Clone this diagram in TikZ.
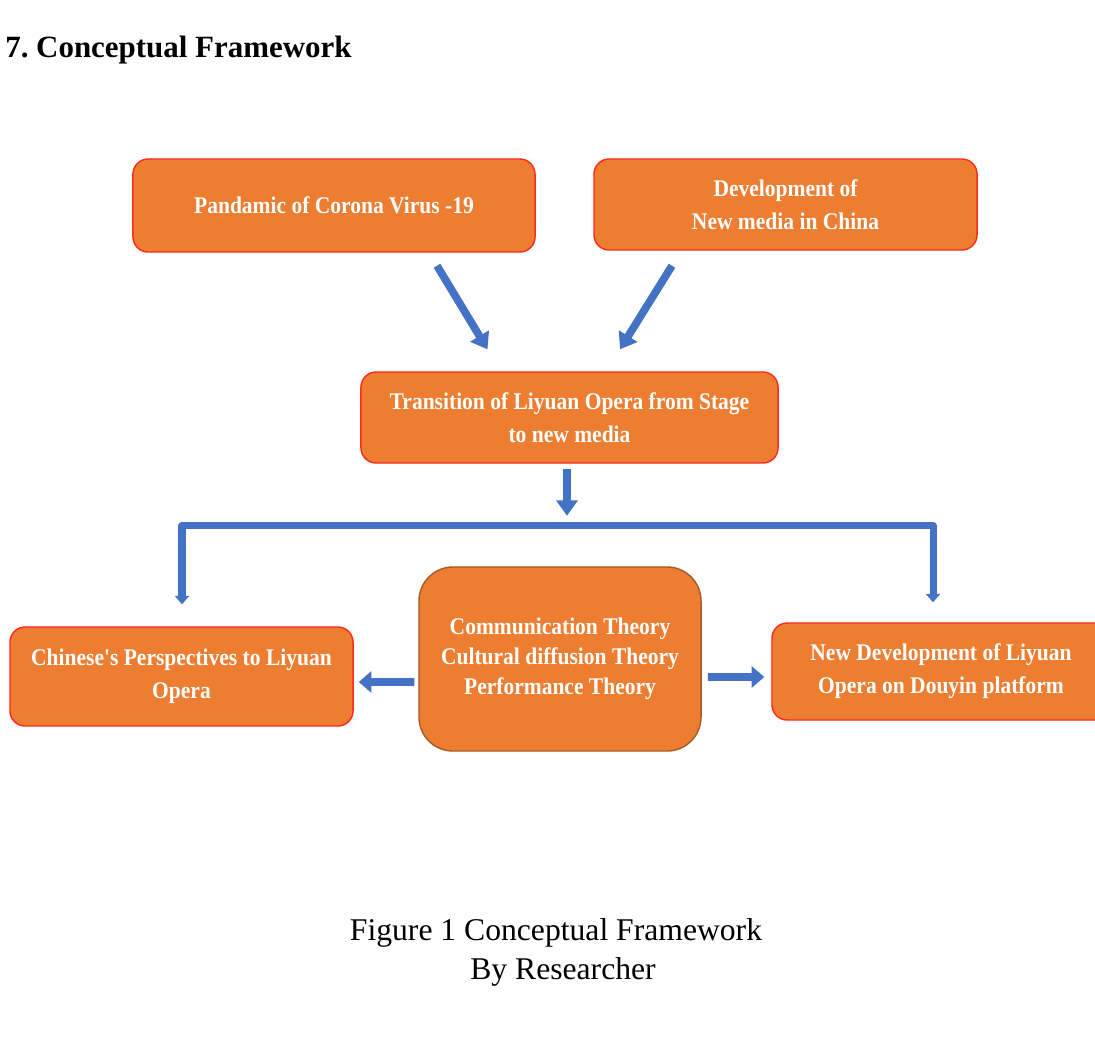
\documentclass[tikz,border=0pt]{standalone}
\usepackage{fontspec}
\setmainfont{Liberation Serif}
\newfontfamily\boxfont[FakeStretch=0.9]{Liberation Serif}
\usetikzlibrary{arrows.meta, calc}
\definecolor{boxorange}{HTML}{ED7D31}
\definecolor{boxred}{HTML}{FF2A1A}
\definecolor{theoedge}{HTML}{A65A25}
\definecolor{arrowblue}{HTML}{4472C4}

\begin{document}
\begin{tikzpicture}[x=0.025cm, y=-0.025cm,
  box/.style={draw=boxred, line width=1pt, fill=boxorange, rounded corners=0.38cm,
    text=white, align=center, inner sep=0pt,
    font=\boxfont\bfseries\fontsize{17}{23.5}\selectfont},
  bigarrow/.style={draw=arrowblue, line width=5.5pt, -{Triangle[width=15pt,length=11pt]}},
  sidearrow/.style={draw=arrowblue, line width=5.5pt, -{Triangle[width=15pt,length=9pt]}},
  brackarrow/.style={draw=arrowblue, line width=5pt, line join=round,
    {Triangle[width=10pt,length=6pt]}-{Triangle[width=10pt,length=6pt]}}]
\useasboundingbox (0,0) rectangle (1095,1053);
\clip (0,0) rectangle (1095,1053);

% heading and caption
\node[anchor=base west, inner sep=0pt, font=\bfseries\fontsize{22}{26}\selectfont] (title) at (5,57) {7.\ Conceptual Framework};
\node[anchor=base, font=\fontsize{22.5}{27}\selectfont] (cap) at (556,940) {Figure 1 Conceptual Framework};
\node[anchor=base, font=\fontsize{22.5}{27}\selectfont] (by) at (563,979) {By Researcher};

% boxes
\node[box, minimum width=10.05cm, minimum height=2.325cm] (pand) at (334,205.5) {Pandamic of Corona Virus -19};
\node[box, minimum width=9.575cm, minimum height=2.275cm] (dev) at (785.5,204.5) {Development of\\New media in China};
\node[box, minimum width=10.425cm, minimum height=2.275cm] (trans) at (569.5,417.5) {Transition of Liyuan Opera from Stage\\to new media};
\node[box, minimum width=8.575cm, minimum height=2.475cm] (chin) at (181.5,676.5) {Chinese's Perspectives to Liyuan\\Opera};
\node[box, draw=theoedge, rounded corners=0.85cm, minimum width=7.05cm, minimum height=4.6cm,
  font=\boxfont\bfseries\fontsize{17}{21.5}\selectfont] (theo) at (560,659)
  {Communication Theory\\Cultural diffusion Theory\\Performance Theory};
\node[box, minimum width=8.45cm, minimum height=2.425cm] (newdev) at (941,671.5) {New Development of Liyuan\\Opera on Douyin platform};

% free ends of the arrows
\coordinate (p1) at ($(pand.south)+(103,13)$);
\coordinate (p2) at ($(trans.north)+(-82,-22)$);
\coordinate (d1) at ($(dev.south)+(-113.5,15)$);
\coordinate (d2) at ($(trans.north)+(50.5,-22)$);
\coordinate (t1) at ($(trans.south)+(-2.5,5)$);
\coordinate (t2) at ($(trans.south)+(-2.5,52)$);
\coordinate (brk) at ($(trans.south)+(0,62)$);
\coordinate (bl) at ($(chin.north)+(0.5,-22)$);
\coordinate (br) at ($(newdev.north)+(-8,-20)$);

% arrows
\draw[bigarrow] (p1) -- (p2);
\draw[bigarrow] (d1) -- (d2);
\draw[bigarrow] (t1) -- (t2);
\draw[brackarrow] (bl) -- (bl |- brk) -- (br |- brk) -- (br);
\draw[sidearrow] ($(theo.west)+(-4,23)$) -- ($(chin.east)+(5,5.5)$);
\draw[sidearrow] ($(theo.east)+(6,18)$) -- ($(newdev.west)+(-7,5.5)$);
\end{tikzpicture}
\end{document}
